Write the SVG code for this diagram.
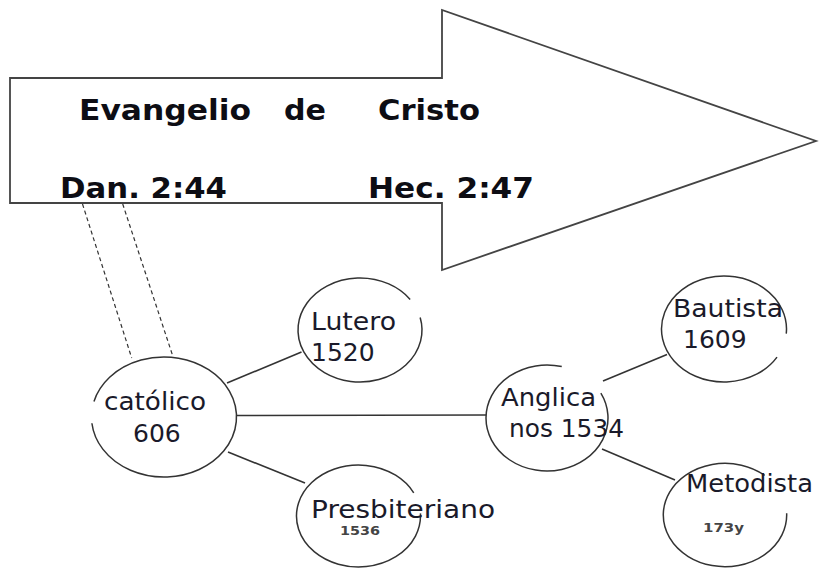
<svg xmlns="http://www.w3.org/2000/svg" width="819" height="569" viewBox="0 0 819 569">
<style>
.bg{fill:#ffffff}
.arrow{fill:#ffffff;stroke:#444444;stroke-width:1.8;stroke-linejoin:miter}
.node{fill:none;stroke:#333333;stroke-width:1.5}
.edge{fill:none;stroke:#333333;stroke-width:1.6}
.dash{fill:none;stroke:#333333;stroke-width:1.2;stroke-dasharray:4 3}
.hdr{font-family:"DejaVu Sans","Liberation Sans",sans-serif;font-weight:bold;font-size:29px;fill:#0d0d14}
.lbl{font-family:"DejaVu Sans","Liberation Sans",sans-serif;font-size:25px;fill:#1a1a2a}
.sm{font-family:"DejaVu Sans","Liberation Sans",sans-serif;font-weight:bold;fill:#444444}
</style>
<rect class="bg" x="0" y="0" width="819" height="569"/>
<g id="arrow">
<polygon class="arrow" points="10,78 442,78 442,10 816,141 442,270 442,203 10,203"/>
<text class="hdr" x="79" y="120" textLength="172" lengthAdjust="spacingAndGlyphs">Evangelio</text>
<text class="hdr" x="284" y="120" textLength="42" lengthAdjust="spacingAndGlyphs">de</text>
<text class="hdr" x="378" y="120" textLength="102" lengthAdjust="spacingAndGlyphs">Cristo</text>
<text class="hdr" x="60" y="198" textLength="167" lengthAdjust="spacingAndGlyphs">Dan. 2:44</text>
<text class="hdr" x="368" y="198" textLength="166" lengthAdjust="spacingAndGlyphs">Hec. 2:47</text>
</g>
<g id="connectors">
<line class="dash" x1="82.5" y1="204" x2="131.7" y2="358"/>
<line class="dash" x1="122.7" y1="204" x2="173" y2="356.7"/>
<line class="edge" x1="227" y1="383" x2="301.5" y2="352"/>
<line class="edge" x1="237" y1="415.5" x2="486" y2="415"/>
<line class="edge" x1="228" y1="452" x2="305" y2="483"/>
<line class="edge" x1="603" y1="381" x2="667" y2="354.5"/>
<line class="edge" x1="602" y1="449" x2="675" y2="480"/>
</g>
<g id="catolico">
<path class="node" d="M93.97,401.47 A72.5,60 0 1,1 91.9,423.27"/>
<text class="lbl" x="104" y="410" textLength="102" lengthAdjust="spacingAndGlyphs">católico</text>
<text class="lbl" x="133" y="441.7">606</text>
</g>
<g id="lutero">
<path class="node" d="M420.16,317.42 A62,52 0 1,1 410.16,299.43"/>
<text class="lbl" x="311" y="330" textLength="85" lengthAdjust="spacingAndGlyphs">Lutero</text>
<text class="lbl" x="311" y="361">1520</text>
</g>
<g id="presbiteriano">
<path class="node" d="M420.41,513.33 A62,51 0 1,1 413.74,492.85"/>
<text class="lbl" x="311" y="518" textLength="184" lengthAdjust="spacingAndGlyphs">Presbiteriano</text>
<text class="sm" x="340" y="535" font-size="13" textLength="40" lengthAdjust="spacingAndGlyphs">1536</text>
</g>
<g id="anglicanos">
<path class="node" d="M600.86,393.12 A61,53 0 1,1 561.76,366.57"/>
<text class="lbl" x="501" y="405.7" textLength="95" lengthAdjust="spacingAndGlyphs">Anglica</text>
<text class="lbl" x="509" y="436.7" textLength="115" lengthAdjust="spacingAndGlyphs">nos 1534</text>
</g>
<g id="bautista">
<path class="node" d="M777,357.08 A62.5,53 0 1,1 786.26,333.62"/>
<text class="lbl" x="673" y="316.7" textLength="110" lengthAdjust="spacingAndGlyphs">Bautista</text>
<text class="lbl" x="683" y="348.3">1609</text>
</g>
<g id="metodista">
<path class="node" d="M786.66,513.2 A61.7,51.7 0 1,1 764.66,475.4"/>
<text class="lbl" x="686" y="491.7" textLength="127" lengthAdjust="spacingAndGlyphs">Metodista</text>
<text class="sm" x="703" y="532.3" font-size="12.5" textLength="41" lengthAdjust="spacingAndGlyphs">173y</text>
</g>
</svg>
